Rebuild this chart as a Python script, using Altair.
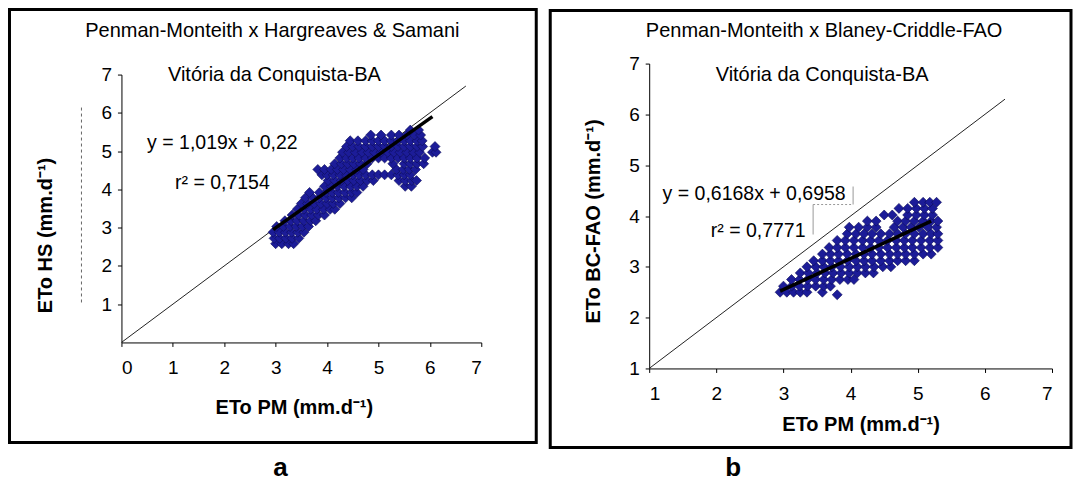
import altair as alt
import pandas as pd

FONT = "Liberation Sans"

# ---------------- data: panel a (PM x Hargreaves & Samani) ----------------
# points read row by row (ETo HS level -> ETo PM values)
a_rows = {
    2.58: [3.0, 3.12, 3.25, 3.35],
    2.72: [2.97, 3.08, 3.2, 3.32, 3.45],
    2.88: [2.95, 3.07, 3.19, 3.31, 3.43, 3.55],
    3.03: [3.02, 3.15, 3.28, 3.4, 3.52, 3.64],
    3.18: [3.18, 3.3, 3.42, 3.55, 3.68, 3.78],
    3.33: [3.32, 3.45, 3.58, 3.7, 3.83, 3.95],
    3.48: [3.42, 3.55, 3.68, 3.8, 3.93, 4.06, 4.15],
    3.63: [3.5, 3.62, 3.75, 3.88, 4.0, 4.12, 4.25],
    3.78: [3.58, 3.72, 3.85, 3.98, 4.1, 4.23, 4.36, 4.48],
    3.92: [3.66, 3.85, 3.98, 4.1, 4.22, 4.35, 4.48, 4.58],
    4.08: [3.95, 4.08, 4.2, 4.33, 4.46, 4.58, 4.7, 5.52, 5.64],
    4.23: [4.02, 4.15, 4.28, 4.4, 4.52, 4.65, 4.78, 4.9, 5.4, 5.52, 5.65, 5.74],
    4.38: [3.9, 4.0, 4.12, 4.25, 4.38, 4.5, 4.62, 4.75, 4.88, 5.0, 5.12, 5.25,
           5.38, 5.5, 5.62],
    4.52: [3.82, 3.95, 4.08, 4.2, 4.32, 4.45, 4.58, 4.7, 5.35, 5.48, 5.6, 5.72],
    4.67: [4.15, 4.28, 4.4, 4.52, 4.65, 4.78, 5.28, 5.5, 5.62, 5.75, 5.88],
    4.82: [4.25, 4.38, 4.5, 4.62, 4.75, 4.88, 5.0, 5.12, 5.25, 5.38, 5.5, 5.62,
           5.75, 5.9],
    4.97: [4.3, 4.42, 4.55, 4.68, 4.8, 4.92, 5.05, 5.18, 5.3, 5.42, 5.55, 5.68,
           5.8, 6.05, 6.12],
    5.12: [4.38, 4.5, 4.62, 4.75, 4.88, 5.0, 5.12, 5.25, 5.38, 5.5, 5.62, 5.75,
           5.86, 6.1],
    5.27: [4.45, 4.6, 4.75, 4.88, 5.0, 5.12, 5.25, 5.38, 5.5, 5.62, 5.75, 5.85],
    5.42: [4.85, 5.05, 5.25, 5.4, 5.55, 5.7, 5.82],
    5.55: [5.62, 5.78],
}
a_x = [x for yv, xs in a_rows.items() for x in xs]
a_y = [yv for yv, xs in a_rows.items() for x in xs]
a_fit_x = [2.95, 6.05]
a_fit_y = [2.95, 5.9]
a_diag = [0, 6.7]

# ---------------- data: panel b (PM x Blaney-Criddle-FAO) ----------------
b_rows = {
    2.45: [3.8],
    2.5: [2.95, 3.05, 3.15, 3.25, 3.35, 3.58],
    2.62: [3.0, 3.12, 3.24, 3.36, 3.48, 3.6, 3.7],
    2.75: [3.12, 3.24, 3.36, 3.48, 3.6, 3.72, 3.84, 3.96, 4.05],
    2.88: [3.25, 3.37, 3.5, 3.62, 3.74, 3.86, 3.98, 4.1, 4.22, 4.34],
    3.0: [3.35, 3.48, 3.6, 3.72, 3.85, 3.98, 4.1, 4.22, 4.35, 4.48, 4.6],
    3.12: [3.45, 3.58, 3.7, 3.82, 3.95, 4.08, 4.2, 4.32, 4.45, 4.58, 4.7, 4.82, 4.95],
    3.25: [3.58, 3.7, 3.82, 3.95, 4.08, 4.2, 4.32, 4.45, 4.58, 4.7, 4.82, 4.95,
           5.08, 5.2],
    3.38: [3.68, 3.8, 3.92, 4.05, 4.18, 4.3, 4.42, 4.55, 4.68, 4.8, 4.92, 5.05,
           5.18, 5.3],
    3.52: [3.8, 3.92, 4.05, 4.18, 4.3, 4.42, 4.55, 4.68, 4.8, 4.92, 5.05, 5.18, 5.3],
    3.65: [3.95, 4.08, 4.2, 4.32, 4.45, 4.58, 4.7, 4.82, 4.95, 5.08, 5.2, 5.3],
    3.78: [3.98, 4.12, 4.25, 4.38, 4.65, 4.78, 4.9, 5.02, 5.15, 5.28],
    3.9: [4.25, 4.38, 4.7, 4.82, 4.95, 5.08, 5.2, 5.3],
    4.02: [4.5, 4.62, 4.85, 4.98, 5.1, 5.22],
    4.15: [4.72, 4.85, 4.98, 5.1, 5.22],
    4.27: [4.95, 5.08, 5.18, 5.28],
}
b_x = [x for yv, xs in b_rows.items() for x in xs]
b_y = [yv for yv, xs in b_rows.items() for x in xs]
b_fit_x = [2.95, 5.2]
b_fit_y = [2.52, 3.9]
b_diag = [1, 6.3]

# ---------------- texts ----------------
a_title = "Penman-Monteith x Hargreaves & Samani"
b_title = "Penman-Monteith x Blaney-Criddle-FAO"
place = "Vitória da Conquista-BA"
a_eq = ["y = 1,019x + 0,22", "r² = 0,7154"]
b_eq = ["y = 0,6168x + 0,6958", "r² = 0,7771"]
a_ytitle = "ETo HS (mm.d⁻¹)"
b_ytitle = "ETo BC-FAO (mm.d⁻¹)"
xtitle = "ETo PM  (mm.d⁻¹)"
a_ticks_x = [0, 1, 2, 3, 4, 5, 6, 7]
a_ticks_y = [1, 2, 3, 4, 5, 6, 7]
b_ticks = [1, 2, 3, 4, 5, 6, 7]

POINT_FILL = "#1c1c98"
POINT_STROKE = "#0c0c58"


def text_layer(t, x, y, size, bold=False, angle=0):
    return alt.Chart(pd.DataFrame({"t": [t]})).mark_text(
        font=FONT, fontSize=size, fontWeight="bold" if bold else "normal",
        color="black", angle=angle, align="center", baseline="middle"
    ).encode(text="t:N", x=alt.value(x), y=alt.value(y))


def rule_layer(x1, x2, y1, y2, color, dash=None):
    kw = dict(color=color, strokeWidth=1)
    if dash:
        kw["strokeDash"] = dash
    return alt.Chart(pd.DataFrame({"k": [0]})).mark_rule(**kw).encode(
        x=alt.value(x1), x2=alt.value(x2), y=alt.value(y1), y2=alt.value(y2))


def panel(px, py, fx, fy, diag, xdom, ydom, yrange, w, h, xt, yt,
          title, eq, eq_pos, ytitle, ytitle_pos, xtitle_pos, letter, letter_pos, border,
          title_pos, place_pos, extras):
    xs = alt.Scale(domain=xdom, nice=False, zero=False)
    ys = alt.Scale(domain=ydom, range=yrange, nice=False, zero=False)
    xax = alt.Axis(values=xt, title=None, grid=False, labelPadding=12, tickSize=4,
                   domainColor="black", tickColor="black", labelColor="black",
                   labelFont=FONT, labelFontSize=19, format="d")
    yax = alt.Axis(values=yt, title=None, grid=False, labelPadding=6, tickSize=4,
                   domainColor="black", tickColor="black", labelColor="black",
                   labelFont=FONT, labelFontSize=19, format="d")

    border_layer = alt.Chart(pd.DataFrame({"k": [0]})).mark_rect(
        fill=None, stroke="black", strokeWidth=3
    ).encode(x=alt.value(border[0]), x2=alt.value(border[1]),
             y=alt.value(border[2]), y2=alt.value(border[3]))

    diag_df = pd.DataFrame({"x": diag, "y": diag})
    diag_layer = alt.Chart(diag_df).mark_line(color="#222222", strokeWidth=1).encode(
        x=alt.X("x:Q", scale=xs, axis=xax), y=alt.Y("y:Q", scale=ys, axis=yax))

    pts = pd.DataFrame({"x": px, "y": py})
    pts_layer = alt.Chart(pts).mark_point(
        shape="diamond", filled=True, size=100, fill=POINT_FILL,
        stroke=POINT_STROKE, strokeWidth=0.6, opacity=1
    ).encode(x=alt.X("x:Q", scale=xs), y=alt.Y("y:Q", scale=ys))

    fit = pd.DataFrame({"x": fx, "y": fy})
    fit_layer = alt.Chart(fit).mark_line(color="black", strokeWidth=3.5).encode(
        x=alt.X("x:Q", scale=xs), y=alt.Y("y:Q", scale=ys))

    layers = [border_layer, diag_layer, pts_layer, fit_layer,
              text_layer(title, title_pos[0], title_pos[1], 20),
              text_layer(place, place_pos[0], place_pos[1], 20),
              text_layer(eq[0], eq_pos[0][0], eq_pos[0][1], 19.5),
              text_layer(eq[1], eq_pos[1][0], eq_pos[1][1], 19.5),
              text_layer(ytitle, ytitle_pos[0], ytitle_pos[1], 20, bold=True, angle=270),
              text_layer(xtitle, xtitle_pos[0], xtitle_pos[1], 20, bold=True),
              text_layer(letter, letter_pos[0], letter_pos[1], 26, bold=True)]
    layers += extras
    return alt.layer(*layers).properties(width=w, height=h)


pa = panel(a_x, a_y, a_fit_x, a_fit_y, a_diag, [0, 7], [0, 7], [279, 11], 360, 279,
           a_ticks_x, a_ticks_y, a_title, a_eq, [(101, 79), (101, 119)],
           a_ytitle, (-75, 172), (173, 345), "a", (159, 405), (-112, 415, -54, 379),
           (151, -33), (153, 11),
           [rule_layer(-40, -40, 44, 240, "#666666", [3, 3])])
pb = panel(b_x, b_y, b_fit_x, b_fit_y, b_diag, [1, 7], [1, 7], [305, 0], 403, 305,
           b_ticks, b_ticks, b_title, b_eq, [(105, 130), (109, 167)],
           b_ytitle, (-55, 158), (212, 362), "b", (84, 405), (-99, 422, -53, 384),
           (175, -33), (173, 11),
           [rule_layer(164, 164, 141, 171, "#999999"),
            rule_layer(164, 204, 141, 141, "#999999", [2, 2]),
            rule_layer(204, 204, 123, 141, "#999999")])

chart = alt.hconcat(pa, pb, spacing=168, bounds="flush").properties(
    autosize=alt.AutoSizeParams(type="pad"),
    padding={"left": 7.5, "top": 7.5, "right": 0, "bottom": 0},
    background="white",
).configure_view(stroke=None)

chart.save("out.html", embed_options={"renderer": "svg", "actions": False})
